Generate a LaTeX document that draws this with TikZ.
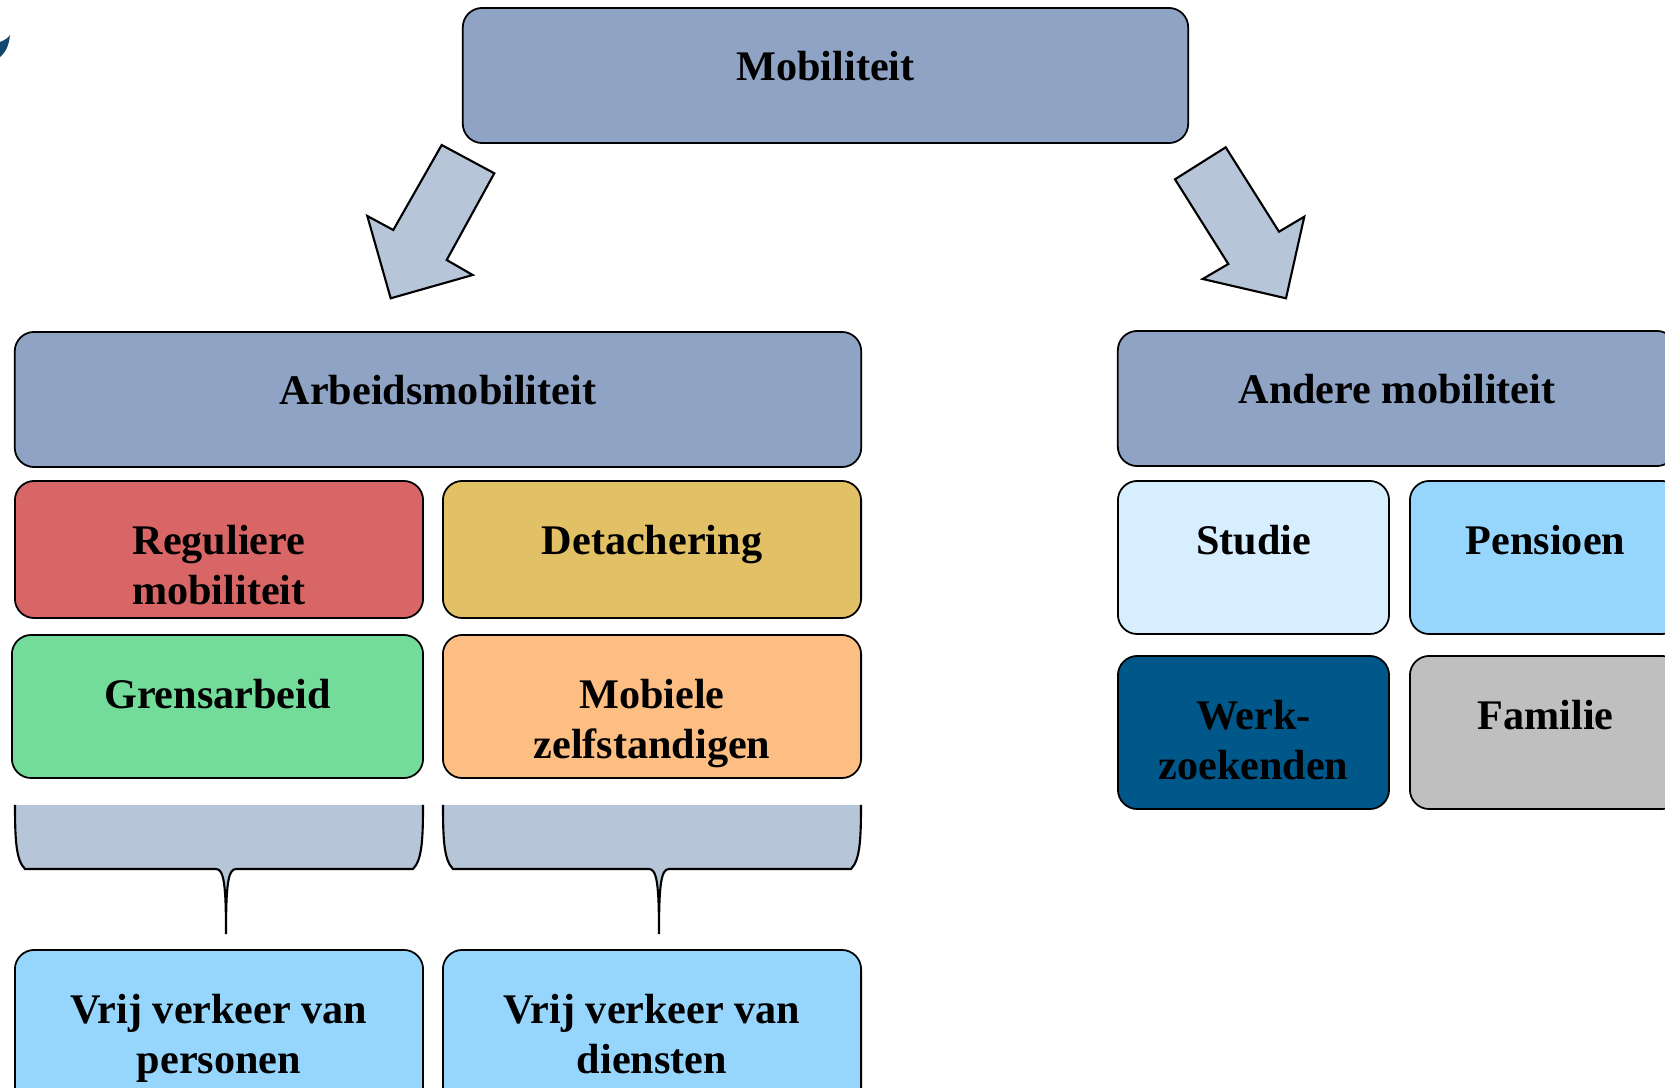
\documentclass[tikz,border=0pt]{standalone}
\usepackage{fontspec}
\setmainfont{Liberation Serif}
\usetikzlibrary{positioning}

\definecolor{topblue}{RGB}{143,164,197}
\definecolor{arrowblue}{RGB}{183,197,216}
\definecolor{regred}{RGB}{217,102,102}
\definecolor{detyellow}{RGB}{225,192,102}
\definecolor{grengreen}{RGB}{115,220,154}
\definecolor{mobrange}{RGB}{253,190,131}
\definecolor{palesky}{RGB}{214,238,253}
\definecolor{sky}{RGB}{150,214,253}
\definecolor{deepblue}{RGB}{0,87,138}
\definecolor{famgrey}{RGB}{191,191,191}
\definecolor{logoblue}{RGB}{18,72,112}

\tikzset{
	box/.style={draw, rounded corners=5.5pt, line width=0.5pt, inner sep=0pt, outer sep=0pt},
	lbl/.style={inner sep=0pt, align=center, font=\fontsize{12}{14.2}\selectfont\bfseries},
	blockarrow/.style={fill=arrowblue, draw, line width=0.6pt, line join=miter},
}

\begin{document}
\begin{tikzpicture}[x=0.01cm, y=-0.01cm]

	\useasboundingbox (0, 0) rectangle (1665, 1088);
	\clip (0, 0) rectangle (1665, 1088);

	\fill[logoblue] (0, 42) .. controls (5, 40) and (8, 38) .. (10, 35) .. controls (9, 45) and (6, 52) .. (0, 57) -- cycle;

	\node (mob) [box, fill=topblue, minimum width=7.25cm, minimum height=1.35cm] at (825.5, 75.5) {};
	\node (arb) [box, fill=topblue, minimum width=8.46cm, minimum height=1.35cm] at (438, 399.5) {};
	\node (and) [box, fill=topblue, minimum width=5.58cm, minimum height=1.35cm] at (1397, 398.5) {};

	\node (reg) [box, fill=regred, minimum width=4.08cm, minimum height=1.37cm] at (219, 549.5) {};
	\node (det) [box, fill=detyellow, minimum width=4.18cm, minimum height=1.37cm] at (652, 549.5) {};
	\node (gre) [box, fill=grengreen, minimum width=4.11cm, minimum height=1.43cm] at (217.5, 706.5) {};
	\node (mzs) [box, fill=mobrange, minimum width=4.18cm, minimum height=1.43cm] at (652, 706.5) {};

	\node (stu) [box, fill=palesky, minimum width=2.71cm, minimum height=1.53cm] at (1253.5, 557.5) {};
	\node (pen) [box, fill=sky, minimum width=2.71cm, minimum height=1.53cm] at (1545.5, 557.5) {};
	\node (wzk) [box, fill=deepblue, minimum width=2.71cm, minimum height=1.53cm] at (1253.5, 732.5) {};
	\node (fam) [box, fill=famgrey, minimum width=2.71cm, minimum height=1.53cm] at (1545.5, 732.5) {};

	\node (vvp) [box, fill=sky, minimum width=4.08cm, minimum height=1.6cm] at (219, 1030) {};
	\node (vvd) [box, fill=sky, minimum width=4.18cm, minimum height=1.6cm] at (652, 1030) {};

	\node (mobt) [lbl, below=0.43cm of mob.north] {Mobiliteit};
	\node (arbt) [lbl, below=0.43cm of arb.north] {Arbeidsmobiliteit};
	\node (andt) [lbl, below=0.43cm of and.north] {Andere mobiliteit};
	\node (regt) [lbl, below=0.44cm of reg.north] {Reguliere\\mobiliteit};
	\node (dett) [lbl, below=0.44cm of det.north] {Detachering};
	\node (gret) [lbl, below=0.44cm of gre.north] {Grensarbeid};
	\node (mzst) [lbl, below=0.44cm of mzs.north] {Mobiele\\zelfstandigen};
	\node (stut) [lbl, below=0.44cm of stu.north] {Studie};
	\node (pent) [lbl, below=0.44cm of pen.north] {Pensioen};
	\node (wzkt) [lbl, below=0.44cm of wzk.north] {Werk-\\zoekenden};
	\node (famt) [lbl, below=0.44cm of fam.north] {Familie};
	\node (vvpt) [lbl, below=0.44cm of vvp.north] {Vrij verkeer van\\personen};
	\node (vvdt) [lbl, below=0.44cm of vvd.north] {Vrij verkeer van\\diensten};

	\draw[blockarrow] (441.7, 145) -- (494.3, 173.3) -- (446.7, 260) -- (472.7, 275) -- (390.7, 298.3) -- (367.3, 216) -- (393.3, 230) -- cycle;
	\draw[blockarrow] (1225.7, 147.3) -- (1279, 231.7) -- (1304.3, 216.7) -- (1286, 298.3) -- (1202.7, 279) -- (1228.3, 264) -- (1175, 179.3) -- cycle;

	\fill[arrowblue] (15, 805) .. controls (15, 840) and (16, 860) .. (25, 869) -- (216, 869) .. controls (224, 869) and (226, 885) .. (226, 934) .. controls (226, 885) and (228, 869) .. (236, 869) -- (413, 869) .. controls (422, 860) and (423, 840) .. (423, 805) -- cycle;
	\draw[line width=0.6pt] (15, 805) .. controls (15, 840) and (16, 860) .. (25, 869) -- (216, 869) .. controls (224, 869) and (226, 885) .. (226, 934) .. controls (226, 885) and (228, 869) .. (236, 869) -- (413, 869) .. controls (422, 860) and (423, 840) .. (423, 805);

	\fill[arrowblue] (443, 805) .. controls (443, 840) and (444, 860) .. (453, 869) -- (649, 869) .. controls (657, 869) and (659, 885) .. (659, 934) .. controls (659, 885) and (661, 869) .. (669, 869) -- (851, 869) .. controls (860, 860) and (861, 840) .. (861, 805) -- cycle;
	\draw[line width=0.6pt] (443, 805) .. controls (443, 840) and (444, 860) .. (453, 869) -- (649, 869) .. controls (657, 869) and (659, 885) .. (659, 934) .. controls (659, 885) and (661, 869) .. (669, 869) -- (851, 869) .. controls (860, 860) and (861, 840) .. (861, 805);

\end{tikzpicture}
\end{document}
